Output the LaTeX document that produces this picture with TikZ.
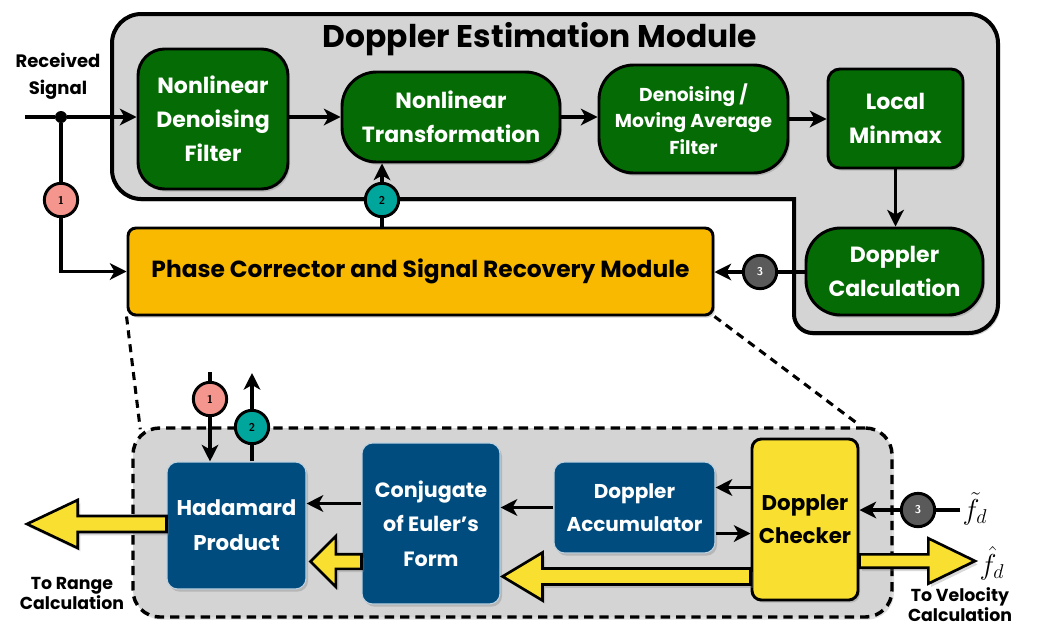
\documentclass[tikz,border=0pt]{standalone}
\usepackage{fontspec}
\setmainfont{Poppins}
\usetikzlibrary{arrows.meta,calc,shadows}

\definecolor{modgray}{HTML}{D4D4D4}
\definecolor{blkgreen}{HTML}{056B05}
\definecolor{blkblue}{HTML}{004C7E}
\definecolor{pcorange}{HTML}{F8B900}
\definecolor{chkyellow}{HTML}{F9E030}
\definecolor{tagpink}{HTML}{F5968E}
\definecolor{tagteal}{HTML}{00A59C}
\definecolor{tagdark}{HTML}{5A5A5A}

\tikzset{
  sz/.style 2 args={minimum width={(#1)*0.75pt},minimum height={(#2)*0.75pt}},
  shade/.style={drop shadow={opacity=0.35,shadow xshift=1.5pt,shadow yshift=-2pt}},
  modframe/.style={draw=black,line width=3pt,fill=modgray,shade},
  lowframe/.style={draw=black,line width=2.6pt,fill=modgray,dash pattern=on 7pt off 4.5pt,
    rounded corners=20pt,inner sep=0pt},
  gbox/.style={draw=black,line width=2.2pt,fill=blkgreen,text=white,align=center,
    inner sep=0pt,font=\bfseries\fontsize{16.5}{25.5}\selectfont,shade},
  bbox/.style={draw=white!75!blkblue,line width=0.8pt,fill=blkblue,text=white,align=center,
    inner sep=0pt,rounded corners=8pt,font=\bfseries\fontsize{16}{26}\selectfont,shade},
  tag/.style={circle,draw=black,line width=2.2pt,minimum size=25pt,inner sep=0pt,
    font=\bfseries\sffamily\fontsize{8.5}{8.5}\selectfont},
  wire/.style={line width=2.3pt,draw=black},
  arr/.style={wire,-{Stealth[length=12.5pt,width=12.5pt,inset=3.5pt]}},
  zoomline/.style={line width=2.3pt,dash pattern=on 6pt off 4.5pt},
  yarrow/.style={draw=black,line width=2pt,fill=chkyellow,line join=miter,
    drop shadow={opacity=0.3,shadow xshift=2pt,shadow yshift=-2.5pt}},
  lbl/.style={font=\bfseries\fontsize{13}{13.5}\selectfont,align=center,inner sep=0pt},
  mlbl/.style={inner sep=0pt,font=\fontsize{17}{17}\selectfont},
}

% horizontal block arrow: start, tip, shaft half width, head half width, head length
\newcommand\blockarrow[5]{%
  \coordinate (ba-s) at (#1);
  \coordinate (ba-t) at (#2);
  \coordinate (ba-b) at ($(ba-t)!#5!(ba-s)$);
  \path[yarrow] ($(ba-s)!#3!90:(ba-t)$) -- ($(ba-b)!#3!-90:(ba-s)$)
    -- ($(ba-b)!#4!-90:(ba-s)$) -- (ba-t) -- ($(ba-b)!#4!90:(ba-s)$)
    -- ($(ba-b)!#3!90:(ba-s)$) -- ($(ba-s)!#3!-90:(ba-t)$) -- cycle;
}

\begin{document}
\begin{tikzpicture}[x=0.75pt,y=-0.75pt]
\useasboundingbox (0,0) rectangle (1037,622);

% ---------------- Doppler estimation module ----------------
\path[modframe] (112,110) [rounded corners=22pt] -- (112,14) -- (998,14) -- (998,333)
  [rounded corners=14pt] -- (794,333) [sharp corners] -- (794,199)
  -- (300,199) [rounded corners=22pt] -- (112,199) -- cycle;
\node[font=\bfseries\fontsize{23.5}{25}\selectfont] (title) at (540,39) {Doppler Estimation Module};

\node[gbox,rounded corners=20pt,sz={150}{140}] (ndf) at (213,119) {Nonlinear\\Denoising\\Filter};
\node[gbox,rounded corners=26pt,sz={218}{90}] (nlt) at (451,117) {Nonlinear\\Transformation};
\node[gbox,rounded corners=26pt,sz={189}{108},
      font=\bfseries\fontsize{14}{20}\selectfont] (maf) at (693.5,119) {Denoising /\\Moving Average\\Filter};
\node[gbox,rounded corners=9pt,sz={135}{99}] (lmm) at (895.5,118.5) {Local\\Minmax};
\node[gbox,rounded corners=26pt,sz={177}{87},font=\bfseries\fontsize{16.5}{25}\selectfont] (dcal)
      at (894.5,271.5) {Doppler\\Calculation};

\node[draw=black,line width=2.2pt,fill=pcorange,rounded corners=6pt,inner sep=0pt,shade,
      font=\bfseries\fontsize{17.5}{18}\selectfont,sz={585}{87}] (pcm) at (420.5,271.5)
      {\raisebox{-2pt}{Phase Corrector and Signal Recovery Module}};

% received signal input
\node[lbl,font=\bfseries\fontsize{13.5}{20}\selectfont] (rsig) at (58,76) {Received\\Signal};
\coordinate (rsin) at (25,117);
\node[circle,fill=black,inner sep=0pt,minimum size=9pt] (split) at (61,117) {};
\draw[wire] (rsin) -- (split);
\draw[arr] (split) -- (ndf.west |- split);

\node[tag,fill=tagpink] (t1) at (61,200) {1};
\node[tag,fill=tagteal] (t2) at (382,200) {2};
\node[tag,fill=tagdark,text=white] (t3) at (760,272) {3};

\draw[wire] (split) -- (t1);
\draw[arr] (t1) |- (pcm.west);
\draw[wire] (pcm.north -| t2) -- (t2);
\draw[arr] (t2) -- (t2 |- nlt.south);

\draw[arr] (ndf.east |- nlt.west) -- (nlt.west);
\draw[arr] (nlt.east) -- (maf.west |- nlt.east);
\draw[arr] (maf.east) -- (lmm.west |- maf.east);
\draw[arr] (lmm.south) -- (lmm.south |- dcal.north);
\draw[wire] (dcal.west |- t3) -- (t3);
\draw[arr] (t3) -- (pcm.east |- t3);

% ---------------- expanded view of the phase corrector ----------------
\node[lowframe,sz={759}{189},
      drop shadow={opacity=0.25,shadow xshift=1.5pt,shadow yshift=-2pt}] (low) at (512.5,522.5) {};
\draw[zoomline] (pcm.south west) -- ($(low.north west)+(9,3)$);
\draw[zoomline] (pcm.south east) -- ($(low.north east)+(-38,-4)$);

\node[bbox,sz={139}{127}] (had) at (236.5,525.5) {Hadamard\\Product};
\node[bbox,sz={138}{161},font=\bfseries\fontsize{15.5}{26}\selectfont] (conj) at (431,523.5)
      {Conjugate\\of Euler’s\\Form};
\node[bbox,sz={161}{91},font=\bfseries\fontsize{15}{25}\selectfont] (acc) at (634.5,507.5)
      {Doppler\\Accumulator};
\node[draw=black,line width=2.2pt,fill=chkyellow,rounded corners=7pt,inner sep=0pt,align=center,
      font=\bfseries\fontsize{16}{25}\selectfont,shade,sz={106}{161}] (chk) at (805,519.5)
      {Doppler\\Checker};

% block arrows
\coordinate (rangeTip) at (27,524);
\coordinate (velTip) at (975,561);
\blockarrow{had.west |- rangeTip}{rangeTip}{6pt}{18pt}{38pt}
\blockarrow{$(conj.west)+(0,38)$}{$(had.east |- conj.west)+(4,38)$}{5.5pt}{19pt}{19pt}
\blockarrow{$(chk.south west)+(0,-25)$}{$(conj.east |- chk.south)+(2,-25)$}{6pt}{18pt}{30pt}
\blockarrow{chk.east |- velTip}{velTip}{5pt}{17pt}{35pt}

% labels of outputs
\node[lbl] (rlbl) at (72,593) {To Range\\Calculation};
\node[lbl] (vlbl) at (960,605) {To Velocity\\Calculation};
\node[mlbl] (fhat) at (992,563) {\scalebox{1.25}{$\hat{f}_d$}};
\node[mlbl] (ftil) at (975,509) {\scalebox{1.25}{$\tilde{f}_d$}};

% internal connectors
\draw[arr] ($(chk.west |- acc.center)+(0,-20)$) -- ($(acc.east)+(0,-20)$);
\draw[arr] ($(acc.east)+(0,26)$) -- ($(chk.west |- acc.center)+(0,26)$);
\draw[arr] (acc.west) -- (conj.east |- acc.west);
\draw[arr] ($(conj.west)+(0,-20)$) -- ($(had.east |- conj.west)+(0,-20)$);

\node[tag,fill=tagdark,text=white] (t3b) at (918,510) {3};
\draw[wire] ($(ftil.west |- t3b)+(-2,0)$) -- (t3b);
\draw[arr] (t3b) -- (chk.east |- t3b);

\coordinate (in1) at (210,372);
\coordinate (out2) at (252,373);
\node[tag,fill=tagpink] (t1b) at (210,399) {1};
\node[tag,fill=tagteal] (t2b) at (252,427) {2};
\draw[wire] (in1) -- (t1b);
\draw[arr] (t1b) -- (had.north -| t1b);
\draw[wire] (had.north -| t2b) -- (t2b);
\draw[arr] (t2b) -- (out2);

\end{tikzpicture}
\end{document}
